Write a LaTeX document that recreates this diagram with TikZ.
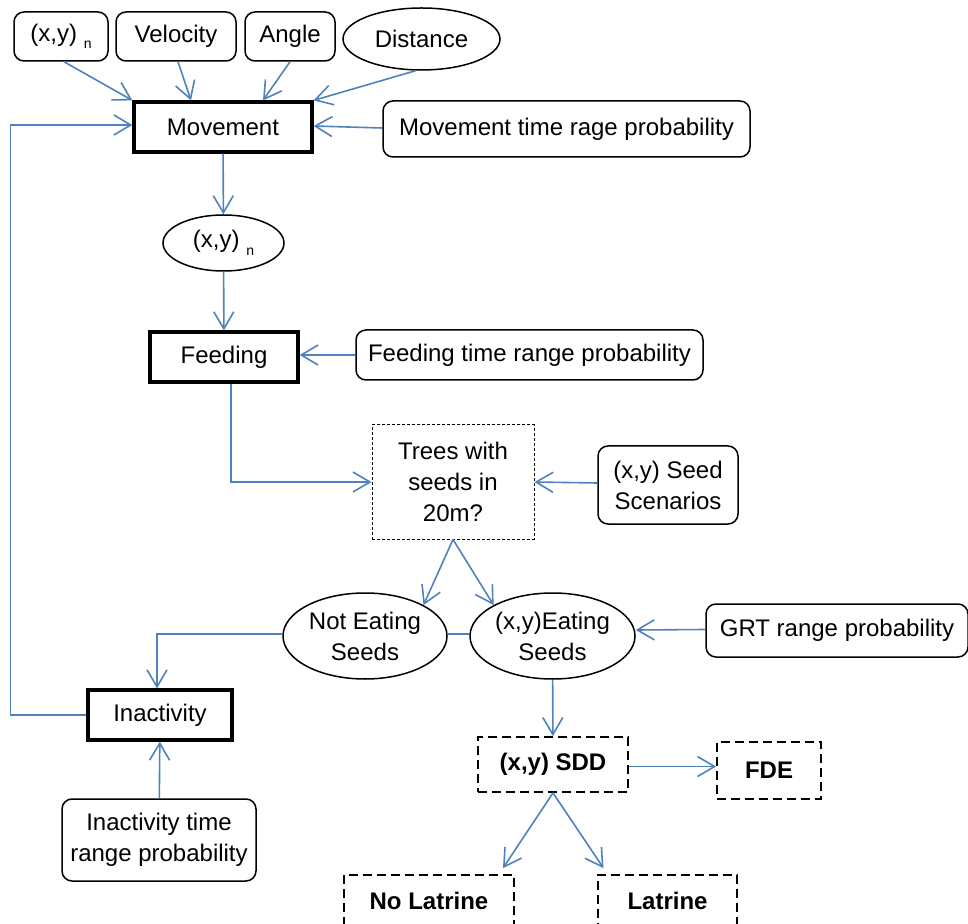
\documentclass[tikz,border=0pt]{standalone}
\usepackage{fontspec}
\setmainfont{Liberation Sans}
\usetikzlibrary{arrows.meta}
\usetikzlibrary{shapes.geometric}

\definecolor{linkblue}{RGB}{79,129,189}
\newcommand{\subn}{\raisebox{-0.6ex}{\fontsize{7}{8}\selectfont n}}

\begin{document}
\begin{tikzpicture}[x=0.5pt,y=-0.5pt,
    font=\fontsize{12}{15.5}\selectfont,
    inbox/.style={draw,rounded corners=5pt,line width=0.75pt,align=center,inner sep=0pt},
    inoval/.style={draw,ellipse,line width=0.75pt,align=center,inner sep=0pt},
    stage/.style={draw,line width=1.6pt,inner sep=0pt},
    query/.style={draw,line width=0.5pt,dash pattern=on 1.5pt off 1pt,align=center,inner sep=0pt},
    result/.style={draw,line width=0.9pt,dash pattern=on 4.5pt off 2.5pt,font=\fontsize{12}{15.5}\selectfont\bfseries,inner sep=0pt},
    link/.style={linkblue,line width=0.8pt,-{Straight Barb[length=8.5pt,width=10pt]}}]
    \useasboundingbox (0,0) rectangle (968,924);
    % inputs to movement
    \node[inbox,minimum width=47pt,minimum height=24.5pt] (xy0) at (61,36.5) {(x,y) \subn};
    \node[inbox,minimum width=60pt,minimum height=24.5pt] (vel) at (176,36.5) {Velocity};
    \node[inbox,minimum width=45pt,minimum height=24.5pt] (ang) at (290,36.5) {Angle};
    \node[inoval,minimum width=78.5pt,minimum height=31pt] (dist) at (421.5,39) {Distance};
    \node[stage,minimum width=89pt,minimum height=25pt] (move) at (223,127) {Movement};
    \node[inbox,minimum width=183.5pt,minimum height=28pt] (moveprob) at (566.5,129) {Movement time rage probability};
    %
    \node[inoval,minimum width=60.5pt,minimum height=28pt] (xyn) at (223.5,243) {(x,y) \subn};
    \node[stage,minimum width=74pt,minimum height=25pt] (feed) at (224,357) {Feeding};
    \node[inbox,minimum width=173.5pt,minimum height=25pt] (feedprob) at (529.5,355) {Feeding time range probability};
    \node[query,minimum width=81pt,minimum height=57pt] (trees) at (453,482) {Trees with\\seeds in\\20m?};
    \node[inbox,minimum width=70pt,minimum height=39pt] (seedsc) at (668,485) {(x,y) Seed\\Scenarios};
    %
    \node[inoval,minimum width=82pt,minimum height=43pt] (noeat) at (365,636) {Not Eating\\Seeds};
    \node[inoval,minimum width=82.5pt,minimum height=43pt] (eat) at (552.5,636) {(x,y)Eating\\Seeds};
    \node[inbox,minimum width=131pt,minimum height=26.5pt] (grt) at (837,630.5) {GRT range probability};
    \node[stage,minimum width=72pt,minimum height=25pt] (inact) at (160,715) {Inactivity};
    \node[inbox,minimum width=97pt,minimum height=41pt] (inactprob) at (159,840) {Inactivity time\\range probability};
    %
    \node[result,minimum width=75pt,minimum height=27.5pt] (sdd) at (553,764.5) {(x,y) SDD};
    \node[result,minimum width=52pt,minimum height=28.5pt] (fde) at (769,770.5) {FDE};
    \node[result,minimum width=85pt,minimum height=26pt] (nolat) at (429,901) {No Latrine};
    \node[result,minimum width=69.5pt,minimum height=26pt] (lat) at (667.5,901) {Latrine};
    % connectors
    \draw[link] (xy0.south) ++(3,0) -- (move.north west);
    \draw[link] (vel.south) ++(2,0) -- ([xshift=-16pt]move.north);
    \draw[link] (ang.south) -- ([xshift=20pt]move.north);
    \draw[link] (dist.south) ++(-6,0) -- (move.north east);
    \draw[link] (moveprob.west) ++(0,-1) -- ([yshift=0.5pt]move.east);
    \draw[link] (move) -- (xyn);
    \draw[link] (xyn) -- (feed);
    \draw[link] (feedprob.west) -- (feedprob.west -| feed.east);
    \draw[link] ([xshift=3.5pt]feed.south) |- (trees.west);
    \draw[link] (seedsc.west) ++(0,-2) -- (trees.east);
    \draw[link] (trees.south) -- (noeat.north east);
    \draw[link] (trees.south) -- (eat.north west);
    \draw[linkblue,line width=0.8pt] ([yshift=1pt]noeat.east) -- ([yshift=1pt]eat.west);
    \draw[link] ([yshift=1pt]noeat.west) -| ([xshift=-1.5pt]inact.north);
    \draw[link] ([yshift=0.5pt]grt.west) -- ([yshift=3pt]eat.east);
    \draw[link] (eat) -- (sdd);
    \draw[link] ([yshift=-1pt]sdd.east) -- ([yshift=-1pt]sdd.east -| fde.west);
    \draw[link] (sdd.south) -- ([xshift=37pt,yshift=3pt]nolat.north);
    \draw[link] (sdd.south) -- ([xshift=-32pt,yshift=3pt]lat.north);
    \draw[link] (inactprob) -- (inact);
    \draw[link] (inact.west) -- ++(-76,0) |- ([yshift=1pt]move.west);
\end{tikzpicture}
\end{document}
